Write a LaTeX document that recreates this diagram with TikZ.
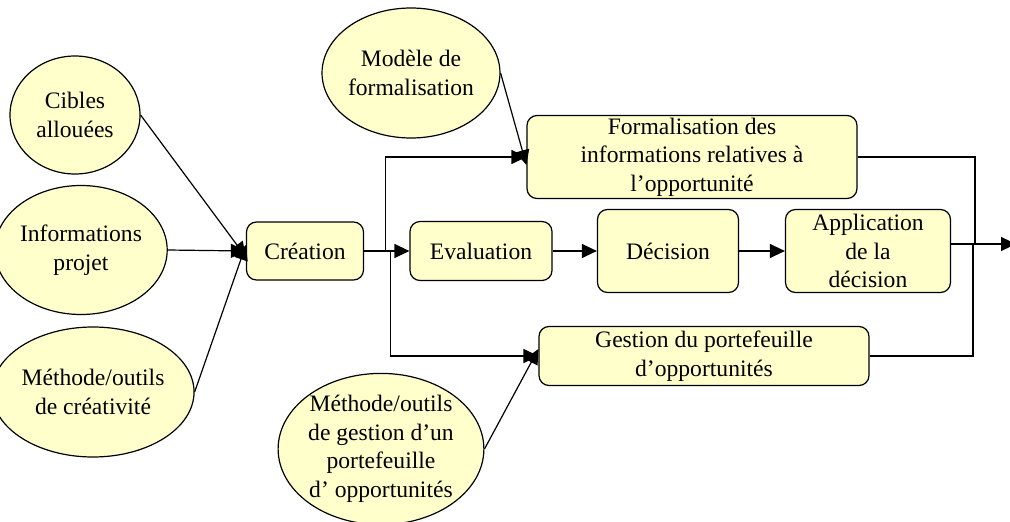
\documentclass[tikz,border=0pt]{standalone}
\usepackage{fontspec}
\setmainfont{Liberation Serif}
\usetikzlibrary{shapes.geometric,arrows.meta}
\definecolor{paleyellow}{HTML}{FFFFCC}
\begin{document}
\begin{tikzpicture}[x=1pt,y=-1pt,
  every node/.style={font=\fontsize{23.6}{28.5}\selectfont, align=center, inner sep=0pt},
  res/.style={ellipse, draw, line width=1.2pt, fill=paleyellow},
  stepbox/.style={rectangle, rounded corners=10pt, draw, line width=1.2pt, fill=paleyellow},
  link/.style={line width=1.2pt},
  arr/.style={link, -{Triangle[length=15pt,width=14pt]}}]
\useasboundingbox (0,0) rectangle (1010,522);

% resources (ellipses)
\node[res, minimum width=130pt, minimum height=118pt] (cib) at (75,115) {Cibles\\allouées};
\node[res, minimum width=141pt, minimum height=129pt] (inf) at (81,250) {Informations\\projet};
\node[res, minimum width=167pt, minimum height=130pt] (mcr) at (93,392) {Méthode/outils\\de créativité};
\node[res, minimum width=141pt, minimum height=130pt] (mod) at (411,73) {Modèle de\\formalisation};
\node[res, minimum width=200pt, minimum height=150pt] (mge) at (381,449) {Méthode/outils\\de gestion d’un\\portefeuille\\d’ opportunités};

% activities (rounded boxes)
\node[stepbox, minimum width=117pt, minimum height=58pt] (cre) at (305,251) {Création};
\node[stepbox, minimum width=330pt, minimum height=83pt] (frm) at (692,157) {Formalisation des\\informations relatives à\\l’opportunité};
\node[stepbox, minimum width=142pt, minimum height=59pt] (eva) at (481,251) {Evaluation};
\node[stepbox, minimum width=141pt, minimum height=83pt] (dec) at (668,251) {Décision};
\node[stepbox, minimum width=165pt, minimum height=83pt] (app) at (868,251) {Application\\de la\\décision};
\node[stepbox, minimum width=330pt, minimum height=59pt] (ges) at (704,356) {Gestion du portefeuille\\d’opportunités};

\coordinate (out) at (1016,244);

% inputs to Création
\draw[arr] (cib.east) -- ([yshift=-6pt]cre.west);
\draw[arr] (inf.east) -- (cre.west);
\draw[arr] (mcr.east) -- ([yshift=6pt]cre.west);

% Création to the three branches
\draw[arr] (cre.east) -- (eva.west);
\draw[arr] (cre.east) ++(21,0) |- (frm.west);
\draw[arr] (cre.east) ++(26,0) |- (ges.west);
\draw[arr] (mod.east) -- ([yshift=-8pt]frm.west);
\draw[arr] (mge.east) -- ([yshift=7pt]ges.west);

% main chain
\draw[arr] (eva.east) -- (dec.west);
\draw[arr] (dec.east) -- (app.west);

% outputs merged to the right
\draw[link] (frm.east) -| (975,244);
\draw[link] (ges.east) -| (973,244);
\draw[arr] (app.east |- out) -- (out);
\end{tikzpicture}
\end{document}
